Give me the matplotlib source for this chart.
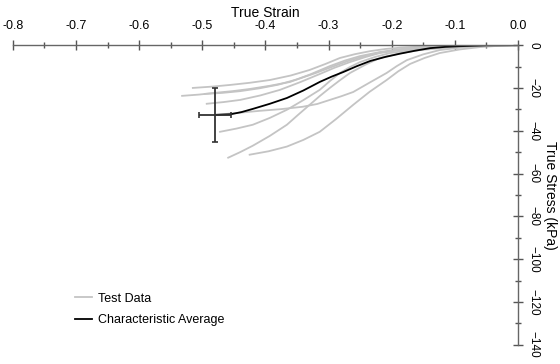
import matplotlib
matplotlib.use("Agg")
import matplotlib.pyplot as plt
from matplotlib.ticker import MultipleLocator, FormatStrFormatter

plt.rcParams['font.family'] = ['Liberation Sans', 'DejaVu Sans']

# test curves (true strain, true stress kPa)
test_strain = [
    [-0.515, -0.485, -0.456, -0.425, -0.393, -0.360, -0.330, -0.305, -0.282, -0.258, -0.234, -0.210, -0.187, -0.150, -0.108, -0.050, 0.0],
    [-0.532, -0.505, -0.480, -0.452, -0.425, -0.393, -0.361, -0.330, -0.298, -0.274, -0.250, -0.218, -0.187, -0.150, -0.108, -0.050, 0.0],
    [-0.493, -0.466, -0.440, -0.408, -0.377, -0.345, -0.314, -0.290, -0.266, -0.242, -0.219, -0.187, -0.155, -0.115, -0.076, 0.0],
    [-0.496, -0.468, -0.440, -0.410, -0.380, -0.350, -0.320, -0.295, -0.270, -0.245, -0.220, -0.190, -0.160, -0.125, -0.090, 0.0],
    [-0.480, -0.445, -0.409, -0.375, -0.341, -0.318, -0.298, -0.280, -0.261, -0.235, -0.208, -0.192, -0.176, -0.150, -0.124, -0.090, -0.060, 0.0],
    [-0.472, -0.446, -0.420, -0.393, -0.366, -0.340, -0.314, -0.298, -0.282, -0.266, -0.250, -0.226, -0.203, -0.170, -0.139, -0.090, 0.0],
    [-0.459, -0.440, -0.420, -0.393, -0.366, -0.348, -0.330, -0.314, -0.298, -0.282, -0.266, -0.242, -0.219, -0.187, -0.155, -0.100, -0.050, 0.0],
    [-0.425, -0.395, -0.366, -0.340, -0.314, -0.288, -0.261, -0.235, -0.208, -0.190, -0.171, -0.148, -0.124, -0.092, -0.060, -0.030, 0.0],
]
test_stress = [
    [-20.0, -19.4, -18.6, -17.6, -16.3, -14.2, -11.6, -8.8, -6.0, -4.2, -2.8, -1.8, -1.2, -0.6, -0.2, -0.05, 0.0],
    [-23.7, -23.1, -22.3, -21.5, -20.5, -19.0, -17.2, -13.8, -9.8, -7.2, -5.1, -3.2, -1.9, -1.0, -0.5, -0.1, 0.0],
    [-27.4, -26.6, -25.6, -23.5, -20.9, -17.3, -13.5, -10.5, -7.9, -5.6, -3.7, -2.3, -1.4, -0.6, -0.2, 0.0],
    [-22.8, -22.3, -21.5, -20.2, -18.5, -16.0, -13.0, -10.2, -7.5, -5.3, -3.5, -2.2, -1.2, -0.6, -0.3, 0.0],
    [-32.6, -31.7, -30.7, -29.9, -28.8, -27.5, -25.6, -23.9, -21.9, -17.5, -13.0, -9.8, -7.0, -4.3, -2.3, -1.1, -0.5, 0.0],
    [-40.5, -39.0, -37.2, -34.0, -30.2, -25.7, -20.9, -16.8, -13.0, -10.2, -7.9, -5.5, -3.7, -2.3, -1.4, -0.5, 0.0],
    [-52.6, -50.0, -47.0, -42.4, -37.2, -32.5, -27.9, -23.8, -20.0, -16.4, -13.0, -9.2, -6.0, -3.8, -2.3, -0.9, -0.2, 0.0],
    [-51.2, -49.6, -47.4, -44.3, -40.5, -34.5, -27.9, -21.8, -16.3, -12.3, -8.8, -6.0, -3.7, -2.0, -0.9, -0.3, 0.0],
]

avg_strain = [-0.480, -0.455, -0.438, -0.420, -0.393, -0.366, -0.340, -0.314, -0.295, -0.277,
              -0.255, -0.234, -0.210, -0.187, -0.163, -0.139, -0.115, -0.092, -0.050, 0.0]
avg_stress = [-32.6, -32.3, -31.3, -29.8, -27.4, -24.7, -21.2, -17.2, -14.7, -12.6,
              -9.8, -7.4, -5.5, -4.0, -2.6, -1.4, -0.8, -0.5, -0.1, 0.0]

# end point scatter
err_strain, err_stress = -0.480, -32.6
err_x, err_y = 0.025, 12.6

fig = plt.figure(figsize=(5.6, 3.64), dpi=100)
ax = fig.add_axes([0.023, 0.053, 0.902, 0.823])

for i, (s, t) in enumerate(zip(test_strain, test_stress)):
    ax.plot(s, t, color='#c4c4c4', lw=1.3, label='Test Data' if i == 0 else None)
ax.plot(avg_strain, avg_stress, color='black', lw=1.3, label='Characteristic Average')
ax.errorbar(err_strain, err_stress, xerr=err_x, yerr=err_y, color='#333333',
            lw=1.3, capsize=2.5, capthick=1.2)

ax.set_xlim(-0.8, 0.0)
ax.set_ylim(-140, 0)

for side in ['left', 'bottom']:
    ax.spines[side].set_visible(False)
for side in ['top', 'right']:
    ax.spines[side].set_color('#666666')
    ax.spines[side].set_linewidth(1.0)

ax.xaxis.set_ticks_position('top')
ax.xaxis.set_label_position('top')
ax.yaxis.set_ticks_position('right')
ax.yaxis.set_label_position('right')

ax.xaxis.set_major_locator(MultipleLocator(0.1))
ax.xaxis.set_minor_locator(MultipleLocator(0.05))
ax.xaxis.set_major_formatter(FormatStrFormatter('%.1f'))
ax.yaxis.set_major_locator(MultipleLocator(20))
ax.yaxis.set_minor_locator(MultipleLocator(10))

ax.tick_params(axis='x', which='major', direction='inout', length=7, width=1,
               color='#555555', pad=6, labelsize=9)
ax.tick_params(axis='x', which='minor', direction='inout', length=5, width=1,
               color='#555555')
ax.tick_params(axis='y', which='major', direction='inout', length=7, width=1,
               color='#555555', pad=3, labelsize=8.5, labelrotation=-90)
ax.tick_params(axis='y', which='minor', direction='inout', length=5, width=1,
               color='#555555')
for lbl in ax.get_yticklabels():
    lbl.set_verticalalignment('center')

ax.set_xlabel('True Strain', fontsize=10, labelpad=2)
ax.set_ylabel('True Stress (kPa)', fontsize=10, rotation=-90, labelpad=13)

ax.legend(loc='lower left', bbox_to_anchor=(0.1, 0.025), frameon=False,
          fontsize=9, handlelength=1.4, handletextpad=0.5, labelspacing=0.75)

fig.savefig('out.png', dpi=100)
